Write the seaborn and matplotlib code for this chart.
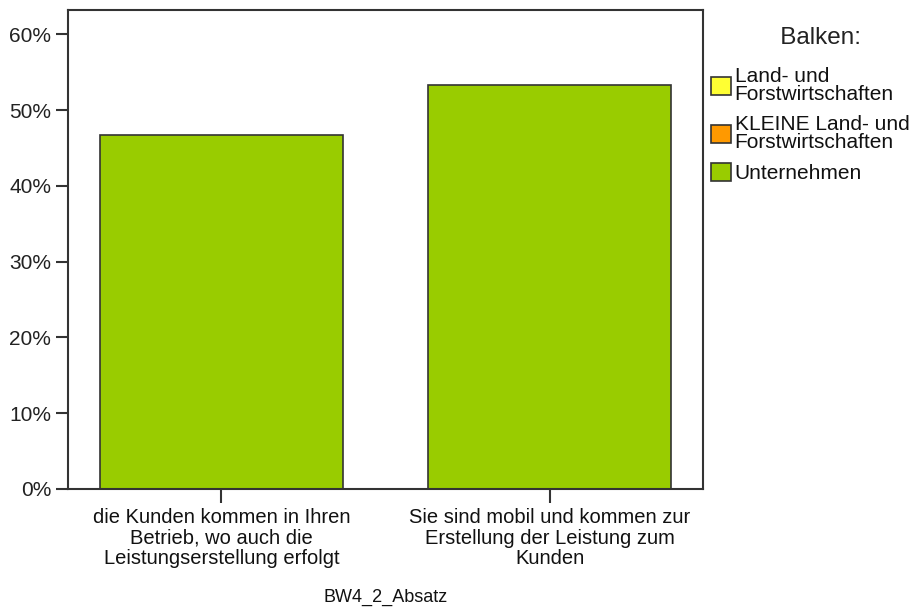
import matplotlib
matplotlib.use("Agg")
import matplotlib.pyplot as plt
from matplotlib.patches import Patch
import seaborn as sns
import pandas as pd

categories = [
    "die Kunden kommen in Ihren\nBetrieb, wo auch die\nLeistungserstellung erfolgt",
    "Sie sind mobil und kommen zur\nErstellung der Leistung zum\nKunden",
]
values = [46.7, 53.3]
legend_labels = ["Land- und\nForstwirtschaften", "KLEINE Land- und\nForstwirtschaften", "Unternehmen"]
legend_colors = ["#FFFF33", "#FF9900", "#99CC00"]
yticks = [0, 10, 20, 30, 40, 50, 60]
xlabel = "BW4_2_Absatz"

sns.set_style("white")
plt.rcParams["font.family"] = ["Liberation Sans", "DejaVu Sans"]

df = pd.DataFrame({"cat": categories, "val": values})

fig = plt.figure(figsize=(9.12, 6.10), dpi=100)
ax = fig.add_axes([68 / 912, (610 - 489) / 610, (703 - 68) / 912, (489 - 10) / 610])

sns.barplot(data=df, x="cat", y="val", color="#99CC00", width=0.74,
            edgecolor="#333333", linewidth=1.2, saturation=1, ax=ax)

ax.set_xlim(-0.467, 1.466)
ax.set_ylim(0, 63.2)
ax.set_yticks(yticks)
ax.set_yticklabels([f"{t}%" for t in yticks], fontsize=15, color="#222222")
ax.tick_params(axis="y", direction="out", length=8.5, width=1.5, color="#333333", pad=3.5, left=True)
ax.tick_params(axis="x", direction="out", length=10, width=1.5, color="#333333", pad=3.5, bottom=True)
for lbl in ax.get_xticklabels():
    lbl.set_fontsize(14.5)
    lbl.set_color("#111111")
    lbl.set_linespacing(1.12)
ax.set_xlabel(xlabel, fontsize=13, color="#111111", labelpad=14.5)
ax.set_ylabel("")
for s in ax.spines.values():
    s.set_visible(True)
    s.set_color("#333333")
    s.set_linewidth(1.5)

handles = [Patch(facecolor=c, edgecolor="#333333", linewidth=1.2) for c in legend_colors]
leg = fig.legend(handles, legend_labels, title="   Balken:", loc="upper left",
                 bbox_to_anchor=(711 / 912, 1 - 27 / 610), frameon=False,
                 fontsize=15, title_fontsize=17.5, handlelength=0.95, handleheight=0.95,
                 handletextpad=0.18, labelspacing=0.55, borderaxespad=0, borderpad=0)
leg._legend_box.align = "center"
leg._legend_box.sep = 13
for t in leg.get_texts():
    t.set_linespacing(0.9)
    t.set_color("#111111")
leg.get_title().set_color("#222222")

fig.savefig("out.png", dpi=100)
